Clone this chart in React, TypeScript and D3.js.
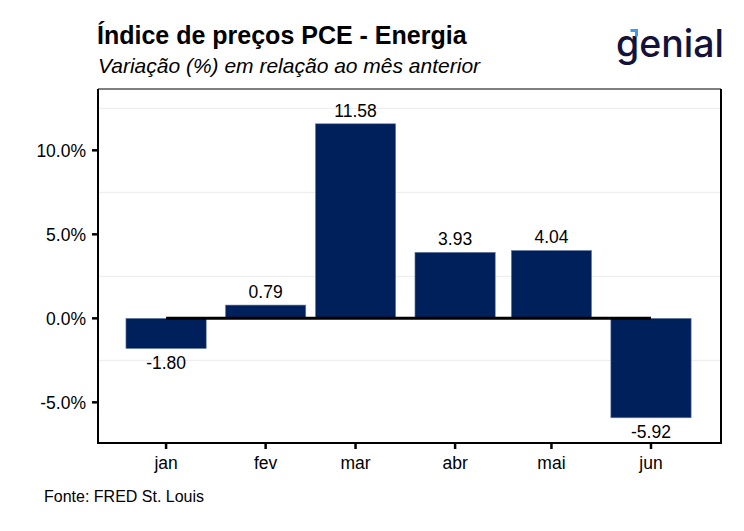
import React from "react";
import * as d3 from "d3";

const months = ["jan", "fev", "mar", "abr", "mai", "jun"];
const monthDates = ["2022-01-01", "2022-02-01", "2022-03-01", "2022-04-01", "2022-05-01", "2022-06-01"];
const values = [-1.8, 0.79, 11.58, 3.93, 4.04, -5.92];
const yTicks = [-5, 0, 5, 10];
const yMinor = [-2.5, 2.5, 7.5, 12.5];
const title = "Índice de preços PCE - Energia";
const subtitle = "Variação (%) em relação ao mês anterior";
const source = "Fonte: FRED St. Louis";

const W = 744;
const H = 531;
const panel = { left: 98, right: 721, top: 89, bottom: 443 };
const DAY = 86400000;
const barDays = 25;
const barColor = "#00205B";
const font = "Liberation Sans, Arial, sans-serif";
const fs = 17.5;

const fmtPct = (v: number) => d3.format(".1f")(v).replace("\u2212", "-") + "%";

export default function App() {
  const dates = monthDates.map((d) => new Date(d + "T00:00:00Z"));
  const x = d3
    .scaleUtc()
    .domain([new Date(dates[0].getTime() - 21.2 * DAY), new Date(dates[5].getTime() + 21.8 * DAY)])
    .range([panel.left, panel.right]);
  const y = d3.scaleLinear().domain([-7.42, 13.65]).range([panel.bottom, panel.top]);
  const bw = x(new Date(dates[0].getTime() + barDays * DAY)) - x(dates[0]);

  return (
    <div style={{ position: "fixed", left: 0, top: 0 }}>
      <svg width={W} height={H} style={{ display: "block", background: "#fff" }}>
        <rect x={0} y={0} width={W} height={H} fill="#fff" />
        <text x={97} y={44} fontFamily={font} fontWeight="bold" fontSize={25} fill="#000">
          {title}
        </text>
        <text x={98} y={73} fontFamily={font} fontStyle="italic" fontSize={21} fill="#000">
          {subtitle}
        </text>
        {/* logo */}
        <g>
          <text x={616} y={57} fontFamily="Inter, 'Open Sans', sans-serif" fontWeight={500} fontSize={37.5} fill="#12123a">
            genial
          </text>
          <path d="M630.5,30.5 L636.5,30.5 L636.5,36.5" fill="none" stroke="#3d9bf0" strokeWidth={3} />
        </g>
        {/* minor gridlines */}
        {yMinor.map((v) => (
          <line key={v} x1={panel.left} x2={panel.right} y1={y(v)} y2={y(v)} stroke="#ebebeb" strokeWidth={1} />
        ))}
        {/* bars */}
        {values.map((v, i) => {
          const cx = x(dates[i]);
          const y0 = y(0);
          const y1 = y(v);
          return (
            <rect
              key={months[i]}
              x={cx - bw / 2}
              y={Math.min(y0, y1)}
              width={bw}
              height={Math.abs(y1 - y0)}
              fill={barColor}
              stroke="#6f84a8"
              strokeWidth={0.6}
            />
          );
        })}
        {/* zero line */}
        <line x1={x(dates[0])} x2={x(dates[5])} y1={y(0)} y2={y(0)} stroke="#000" strokeWidth={3} />
        {/* value labels */}
        {values.map((v, i) => (
          <text
            key={"l" + i}
            x={x(dates[i])}
            y={v >= 0 ? y(v) - 7 : y(v) + 20.5}
            textAnchor="middle"
            fontFamily={font}
            fontSize={fs}
            fill="#000"
          >
            {v.toFixed(2)}
          </text>
        ))}
        {/* panel border */}
        <line x1={panel.left} x2={panel.right} y1={panel.top} y2={panel.top} stroke="#555" strokeWidth={1.5} />
        <line x1={panel.right} x2={panel.right} y1={panel.top} y2={panel.bottom} stroke="#000" strokeWidth={2} />
        <line x1={panel.left} x2={panel.left} y1={panel.top} y2={panel.bottom + 1} stroke="#000" strokeWidth={2} />
        <line x1={panel.left - 1} x2={panel.right + 1} y1={panel.bottom} y2={panel.bottom} stroke="#000" strokeWidth={2} />
        {/* y axis */}
        {yTicks.map((v) => (
          <g key={v}>
            <line x1={panel.left - 6} x2={panel.left} y1={y(v)} y2={y(v)} stroke="#000" strokeWidth={2.5} />
            <text x={panel.left - 12} y={y(v) + 6.3} textAnchor="end" fontFamily={font} fontSize={fs} fill="#000">
              {fmtPct(v)}
            </text>
          </g>
        ))}
        {/* x axis */}
        {months.map((m, i) => (
          <g key={m}>
            <line x1={x(dates[i])} x2={x(dates[i])} y1={panel.bottom} y2={panel.bottom + 6} stroke="#000" strokeWidth={2.5} />
            <text x={x(dates[i])} y={469} textAnchor="middle" fontFamily={font} fontSize={fs} fill="#000">
              {m}
            </text>
          </g>
        ))}
        <text x={44} y={502} fontFamily={font} fontSize={16} fill="#000">
          {source}
        </text>
      </svg>
    </div>
  );
}
